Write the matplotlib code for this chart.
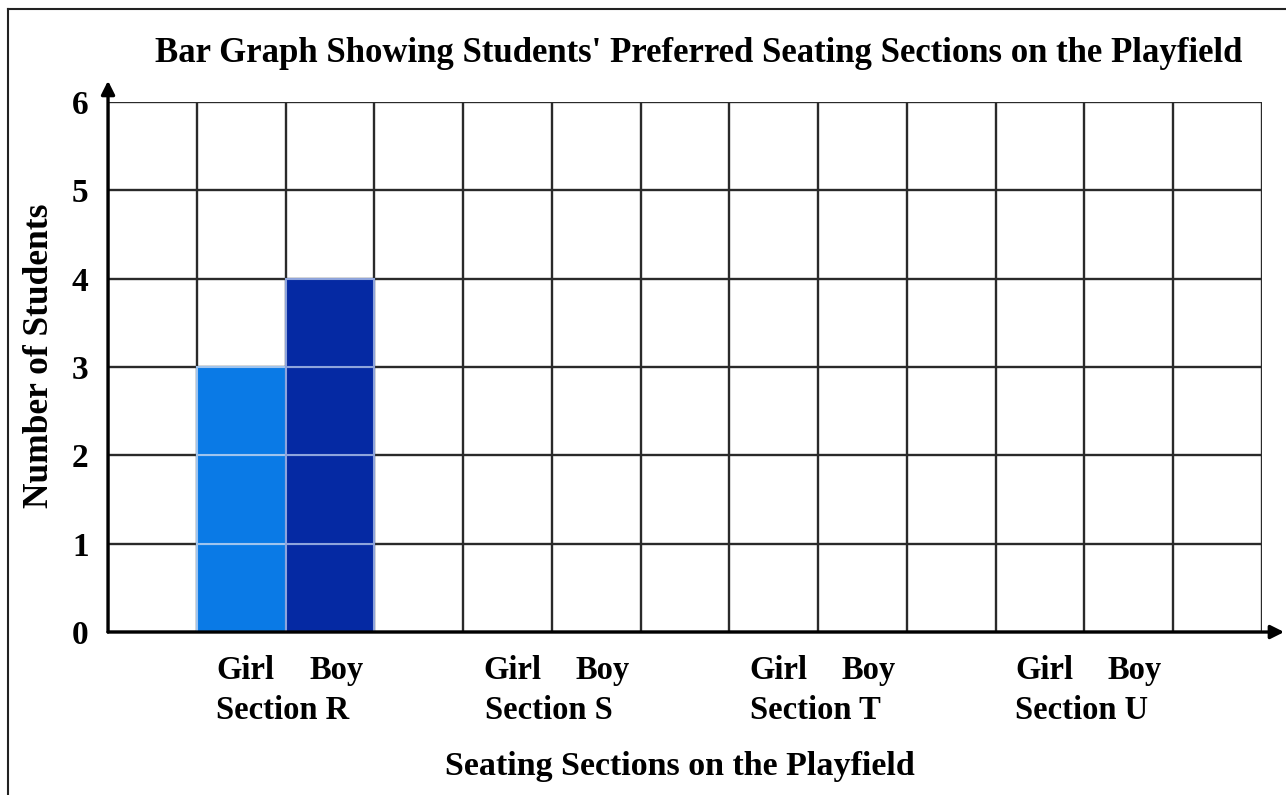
import matplotlib
matplotlib.use("Agg")
import matplotlib.pyplot as plt
from matplotlib.lines import Line2D

sections = ["Section R", "Section S", "Section T", "Section U"]
girls = [3, 0, 0, 0]
boys = [4, 0, 0, 0]
y_ticks = [0, 1, 2, 3, 4, 5, 6]

girl_color = "#0a7ae6"
boy_color = "#0529a3"

plt.rcParams["font.family"] = ["Liberation Serif", "DejaVu Serif"]
plt.rcParams["font.weight"] = "bold"


def main():
    fig = plt.figure(figsize=(12.86, 7.95), dpi=100)
    ax = fig.add_axes([0.084, 0.205, 0.8973, 0.6667])
    ax.set_xlim(0, 13)
    ax.set_ylim(0, 6)

    # grid
    for x in range(0, 14):
        ax.axvline(x, color="#2a2a2a", lw=1.7, zorder=1)
    for y in y_ticks:
        ax.axhline(y, color="#2a2a2a", lw=1.7, zorder=1)

    # bars drawn one cell at a time
    for i, s in enumerate(sections):
        gx = 3 * i + 1.5
        bx = 3 * i + 2.5
        for k in range(girls[i]):
            ax.bar(gx, 1, width=1, bottom=k, color=girl_color,
                   edgecolor="#9fc4ee", lw=1.5, zorder=2)
        for k in range(boys[i]):
            ax.bar(bx, 1, width=1, bottom=k, color=boy_color,
                   edgecolor="#8ea4dc", lw=1.5, zorder=2)

        c = 3 * i + 2
        ax.text(c - 0.45, -0.44, "Girl", ha="center", va="center",
                fontsize=23.5, fontweight="bold")
        ax.text(c + 0.57, -0.44, "Boy", ha="center", va="center",
                fontsize=23.5, fontweight="bold")
        ax.text(c - 0.03, -0.89, s, ha="center", va="center",
                fontsize=23.5, fontweight="bold")

    for sp in ax.spines.values():
        sp.set_visible(False)
    ax.set_xticks([])
    ax.set_yticks(y_ticks)
    ax.set_yticklabels([str(v) for v in y_ticks], fontsize=24, fontweight="bold")
    ax.tick_params(axis="y", length=0, pad=14)

    # axes with arrow heads
    ax.annotate("", xy=(0, 6.24), xytext=(0, 0), annotation_clip=False,
                arrowprops=dict(arrowstyle="-|>", color="black", lw=2.4,
                                mutation_scale=20, shrinkA=0, shrinkB=0))
    ax.annotate("", xy=(13.25, 0), xytext=(0, 0), annotation_clip=False,
                arrowprops=dict(arrowstyle="-|>", color="black", lw=2.4,
                                mutation_scale=20, shrinkA=0, shrinkB=0))

    fig.text(0.543, 0.933,
             "Bar Graph Showing Students' Preferred Seating Sections on the Playfield",
             ha="center", va="center", fontsize=25, fontweight="bold")
    fig.text(0.529, 0.036, "Seating Sections on the Playfield",
             ha="center", va="center", fontsize=24.5, fontweight="bold")
    fig.text(0.031, 0.553, "Number of Students", rotation=90,
             ha="center", va="center", fontsize=25.5, fontweight="bold")

    # outer frame (left and top edges visible)
    fig.add_artist(Line2D([8 / 1286, 8 / 1286], [0, 1 - 9 / 795],
                          color="#222222", lw=1.5))
    fig.add_artist(Line2D([8 / 1286, 1], [1 - 9 / 795, 1 - 9 / 795],
                          color="#222222", lw=1.5))

    fig.savefig("out.png", dpi=100)


if __name__ == "__main__":
    main()
